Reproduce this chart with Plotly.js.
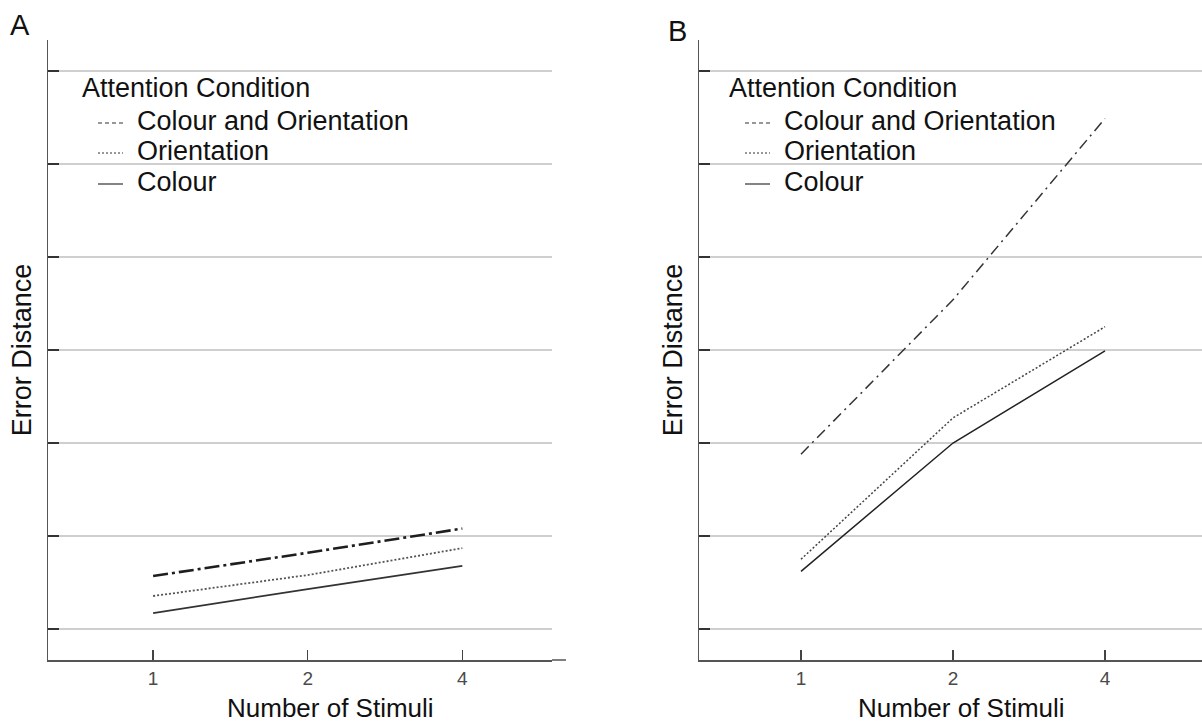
<!DOCTYPE html>
<html><head><meta charset="utf-8">
<script src="https://cdn.plot.ly/plotly-3.0.1.min.js"></script>
<style>html,body{margin:0;padding:0;background:#fff}#chart{width:1202px;height:722px}</style>
</head><body><div id="chart"></div>
<script>
// ---- data ----
const stimuli = ["1", "2", "4"];
const seriesNames = ["Colour and Orientation", "Orientation", "Colour"];
const panelLabels = ["A", "B"];
const legendTitle = "Attention Condition";
const xTitle = "Number of Stimuli";
const yTitle = "Error Distance";
const yTickVals = [0, 1, 2, 3, 4, 5, 6];
const panelA_colourOrientation = [0.57, 0.82, 1.08];
const panelA_orientation = [0.355, 0.58, 0.87];
const panelA_colour = [0.17, 0.43, 0.68];
const panelB_colourOrientation = [1.88, 3.54, 5.49];
const panelB_orientation = [0.75, 2.27, 3.25];
const panelB_colour = [0.62, 2.0, 2.99];

// ---- geometry helpers (pixel -> paper) ----
const W = 1202, H = 722, ML = 48, MR = 0, MT = 40, MB = 62;
const PW = W - ML - MR, PH = H - MT - MB;
const px = x => (x - ML) / PW;
const py = y => (H - MB - y) / PH;

const FONT = "Liberation Sans, Arial, sans-serif";
const ink = "#222";

const styleA = [
  {color: "#1e1e1e", width: 2.6, dash: "15px,4px,3px,4px"},
  {color: "#555", width: 1.8, dash: "2px,2px"},
  {color: "#333", width: 1.8, dash: "solid"}
];
const styleB = [
  {color: "#333", width: 1.5, dash: "11px,5px,2px,5px"},
  {color: "#444", width: 1.5, dash: "2px,2px"},
  {color: "#222", width: 1.5, dash: "solid"}
];
const valsA = [panelA_colourOrientation, panelA_orientation, panelA_colour];
const valsB = [panelB_colourOrientation, panelB_orientation, panelB_colour];

const traces = [];
seriesNames.forEach((n, i) => {
  traces.push({x: stimuli, y: valsA[i], name: n, type: "scatter", mode: "lines",
    line: styleA[i], xaxis: "x", yaxis: "y", showlegend: false, hoverinfo: "skip"});
});
seriesNames.forEach((n, i) => {
  traces.push({x: stimuli, y: valsB[i], name: n, type: "scatter", mode: "lines",
    line: styleB[i], xaxis: "x2", yaxis: "y2", showlegend: false, hoverinfo: "skip"});
});

function xAxis(domain, range, anchor) {
  return {
    domain: domain, type: "category", range: range, anchor: anchor,
    showline: true, linecolor: "#555", linewidth: 1.5,
    ticks: "inside", ticklen: 10, tickwidth: 1.5, tickcolor: "#444",
    tickfont: {size: 19, color: "#4a4a4a", family: FONT}, ticklabelstandoff: 1,
    showgrid: false, zeroline: false, automargin: false,
    title: {text: ""}
  };
}
function yAxis(anchor) {
  return {
    domain: [0, 1], range: [-0.333, 6.333], anchor: anchor,
    tickvals: yTickVals, showticklabels: false,
    ticks: "inside", ticklen: 11, tickwidth: 1.5, tickcolor: "#333",
    showgrid: true, gridcolor: "#cfcfcf", gridwidth: 1.5,
    showline: true, linecolor: "#555", linewidth: 1.5, zeroline: false, automargin: false,
    title: {text: yTitle, font: {size: 27, color: "#111", family: FONT}, standoff: 7}
  };
}

const annotations = [];
const shapes = [];
const panelLeft = [{label: 20, title: 80, sym: 98, text: 135, labelY: 25, xt: 330},
                   {label: 678, title: 727, sym: 745, text: 782, labelY: 31, xt: 961}];
const itemY = [121, 151, 182];
const legDash = ["4px,3px", "2px,2px", "solid"];
panelLeft.forEach((p, k) => {
  annotations.push({xref: "paper", yref: "paper", x: px(p.label), y: py(p.labelY),
    text: panelLabels[k], showarrow: false, xanchor: "center", yanchor: "middle",
    font: {size: 29, color: "#111", family: FONT}});
  annotations.push({xref: "paper", yref: "paper", x: px(p.xt), y: py(708),
    text: xTitle, showarrow: false, xanchor: "center", yanchor: "middle",
    font: {size: 26, color: "#111", family: FONT}});
  annotations.push({xref: "paper", yref: "paper", x: px(p.title), y: py(88),
    text: legendTitle, showarrow: false, xanchor: "left", yanchor: "middle",
    font: {size: 27, color: "#111", family: FONT}});
  seriesNames.forEach((n, i) => {
    annotations.push({xref: "paper", yref: "paper", x: px(p.text), y: py(itemY[i]),
      text: n, showarrow: false, xanchor: "left", yanchor: "middle",
      font: {size: 27, color: "#111", family: FONT}});
    shapes.push({type: "line", xref: "paper", yref: "paper",
      x0: px(p.sym), x1: px(p.sym + 25), y0: py(itemY[i] + 2), y1: py(itemY[i] + 2),
      line: {color: "#333", width: 1.2, dash: legDash[i]}});
  });
});
// x-axis line of panel A runs a little past the grid
shapes.push({type: "line", xref: "paper", yref: "paper", x0: px(552), x1: px(566), y0: 0, y1: 0,
  line: {color: "#555", width: 1.5}});

const layout = {
  width: W, height: H,
  margin: {l: ML, r: MR, t: MT, b: MB, pad: 0},
  paper_bgcolor: "#fff", plot_bgcolor: "#fff",
  font: {family: FONT, color: ink},
  showlegend: false,
  xaxis: xAxis([0, px(552)], [-0.68, 2.58], "y"),
  yaxis: yAxis("x"),
  xaxis2: xAxis([px(699), 1], [-0.671, 2.638], "y2"),
  yaxis2: yAxis("x2"),
  annotations: annotations,
  shapes: shapes
};
Plotly.newPlot("chart", traces, layout, {displayModeBar: false, staticPlot: true});
</script>
</body></html>
